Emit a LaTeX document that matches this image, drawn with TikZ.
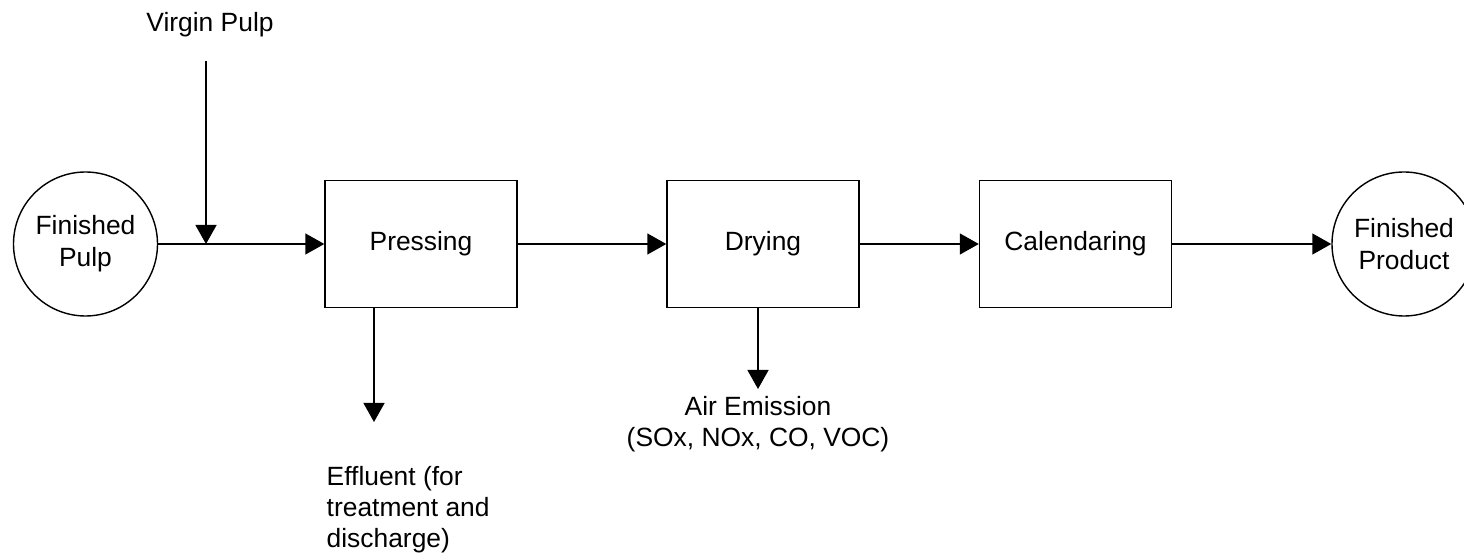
\documentclass[tikz,border=0pt]{standalone}
\usepackage{fontspec}
\setmainfont{Liberation Sans}
\usetikzlibrary{arrows.meta}
\begin{document}
\begin{tikzpicture}[x=0.5pt,y=-0.5pt,line width=0.7pt,
    font=\fontsize{13.2}{15.3}\selectfont,
    stage/.style={draw,minimum width=96pt,minimum height=63.5pt,inner sep=0pt},
    ends/.style={draw,circle,minimum size=72pt,inner sep=0pt,align=center,
      font=\fontsize{13.2}{16.1}\selectfont},
    flow/.style={-{Triangle[length=9.5pt,width=10.5pt]}}]
      \useasboundingbox (0,0) rectangle (1464,555);
      \clip (0,0) rectangle (1464,555);
      \draw
        (85.5,244) node[ends] (fpulp){Finished\\Pulp}
        (421,244) node[stage] (press){Pressing}
        (763,244) node[stage] (dry){Drying}
        (1075.5,244) node[stage] (cal){Calendaring}
        (1404,244) node[ends] (fprod){Finished\\Product};
      \node[anchor=base] (vpulp) at (210,32) {Virgin Pulp};
      \node[anchor=north west,align=left,inner sep=0pt] (effl) at (326,466)
        {Effluent (for\\treatment and\\discharge)};
      \node[anchor=north,align=center,inner sep=0pt] (air) at (758,396)
        {Air Emission\\(SOx, NOx, CO, VOC)};
      \coordinate (vtop) at (206,61);
      \coordinate (vjoin) at (206,244);
      \coordinate (etip) at (374,422);
      \coordinate (atip) at (758,389);
      \begin{scope}[flow]
        \draw (fpulp) to (press);
        \draw (press) to (dry);
        \draw (dry) to (cal);
        \draw (cal) to (fprod);
        \draw (vtop) to (vjoin);
        \draw (etip |- press.south) to (etip);
        \draw (atip |- dry.south) to (atip);
      \end{scope}
    \end{tikzpicture}
\end{document}
